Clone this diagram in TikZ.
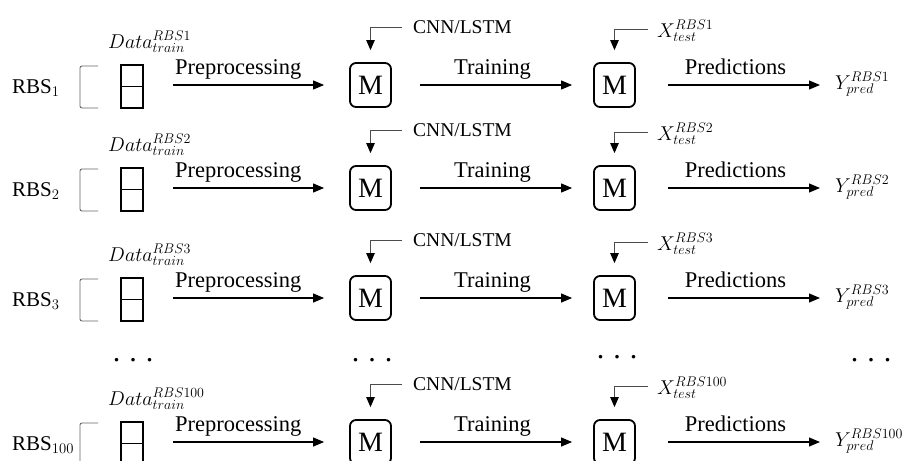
\RequirePackage{fix-cm}
\documentclass[tikz,border=0pt]{standalone}
\usepackage{fontspec}
\setmainfont{Liberation Serif}
\usetikzlibrary{arrows.meta}

\newcommand{\fsz}[1]{\fontsize{#1}{#1}\selectfont}

\tikzset{
  flow/.style={draw=black, line width=1.1pt, -{Triangle[length=11pt,width=9pt]}},
  feed/.style={draw=black!70, line width=0.9pt, -{Triangle[length=10pt,width=8.5pt,color=black]}},
  model/.style={draw=black, line width=1.8pt, rounded corners=6pt, minimum width=41pt,
    minimum height=44pt, inner sep=0pt, font=\fsz{28}},
  databox/.style={draw=black, line width=1.7pt, minimum width=22pt, minimum height=43pt, inner sep=0pt},
  bracket/.style={draw=black!60, line width=0.9pt, rounded corners=2pt},
  steplabel/.style={font=\fsz{22.5}, inner sep=0pt, anchor=base},
  mathlabel/.style={font=\fsz{20}, inner sep=0pt, anchor=base west},
  netlabel/.style={font=\fsz{19.5}, inner sep=0pt, anchor=base west},
  rowlabel/.style={font=\fsz{21}, inner sep=0pt, anchor=base west},
  dotsrow/.style={font=\fsz{30}, inner sep=0pt},
}

\begin{document}
\begin{tikzpicture}[x=1pt, y=-1pt]
  \useasboundingbox (0,0) rectangle (906,461);
  \clip (0,0) rectangle (906,461);

  \foreach \i/\r/\k in {1/85/1, 2/188/2, 3/298/3, 4/442/100} {
    % row label and bracket
    \node[rowlabel] (rbs\i) at (12,\r+8) {RBS$_{\k}$};
    \draw[bracket] (98,\r-19) -- (80,\r-19) -- (80,\r+23) -- (98,\r+23);

    % training data
    \node[databox] (data\i) at (132,\r+1.5) {};
    \draw[line width=0.7pt] (data\i.west) -- (data\i.east);
    \node[mathlabel] (dlab\i) at (108,\r-37) {$Data^{RBS\k}_{train}$};

    % models
    \node[model] (ma\i) at (370.5,\r) {M};
    \node[model] (mb\i) at (614.5,\r) {M};

    % network type input
    \node[netlabel] (cnn\i) at (413,\r-52) {CNN/LSTM};
    \coordinate (ch\i) at (402,\r-58);
    \draw[feed, shorten >=12pt] (ch\i) -| (ma\i.north);

    % test data input
    \node[mathlabel] (xt\i) at (657,\r-48) {$X^{RBS\k}_{test}$};
    \coordinate (xh\i) at (648,\r-56);
    \draw[feed, shorten >=12pt] (xh\i) -| (mb\i.north);

    % output
    \node[mathlabel] (yp\i) at (835,\r+4) {$Y^{RBS\k}_{pred}$};

    % main flow
    \draw[flow, shorten <=29pt, shorten >=25pt] (data\i.east |- ma\i.west) -- (ma\i.west)
      node[steplabel, pos=0.46, yshift=11pt] (pre\i) {Preprocessing};
    \draw[flow, shorten <=28pt, shorten >=21pt] (ma\i.east) -- (mb\i.west)
      node[steplabel, pos=0.5, yshift=11pt] (tr\i) {Training};
    \draw[flow, shorten <=32pt, shorten >=15pt] (mb\i.east) -- (mb\i.east -| yp\i.west)
      node[steplabel, pos=0.5, yshift=11pt] (pr\i) {Predictions};
  }

  % ellipsis row
  \node[dotsrow] (dots1) at (133,360) {.\hspace{9pt}.\hspace{9pt}.};
  \node[dotsrow] (dots2) at (372,360) {.\hspace{9pt}.\hspace{9pt}.};
  \node[dotsrow] (dots3) at (617,357) {.\hspace{9pt}.\hspace{9pt}.};
  \node[dotsrow] (dots4) at (871,360) {.\hspace{9pt}.\hspace{9pt}.};
\end{tikzpicture}
\end{document}
